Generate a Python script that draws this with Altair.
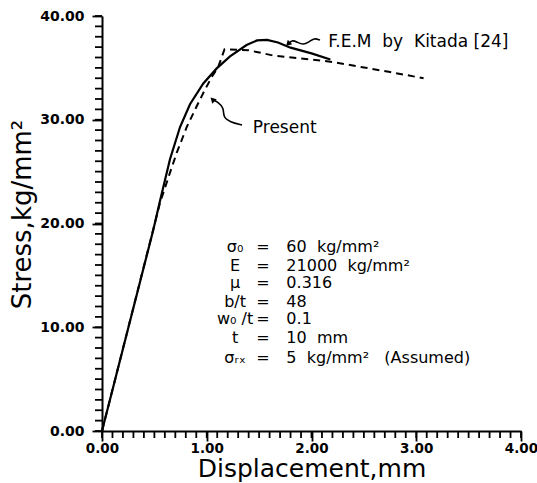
import altair as alt
import pandas as pd

# ---- data ----
fem_x = [0.0, 0.49, 0.554, 0.649, 0.745, 0.840, 0.967, 1.095, 1.222, 1.38, 1.48, 1.575, 1.68, 1.80, 2.0, 2.18]
fem_y = [0.0, 19.4, 22.2, 26.2, 29.3, 31.5, 33.5, 34.95, 36.1, 37.2, 37.65, 37.7, 37.45, 36.95, 36.4, 35.8]

pres_x = [0.0, 0.554, 0.649, 0.713, 0.809, 0.904, 0.983, 1.047, 1.11, 1.17, 1.40, 1.63, 2.18, 2.75, 3.07]
pres_y = [0.0, 22.0, 24.9, 26.8, 29.3, 31.3, 32.9, 34.1, 35.1, 36.8, 36.7, 36.2, 35.6, 34.6, 34.0]

NB = "\u00a0"
# parameter block text
param_left = ["σ₀", "E", "μ", "b/t", "w₀ /t", "t", "σᵣₓ"]
param_right = ["60" + NB * 2 + "kg/mm²", "21000" + NB * 2 + "kg/mm²", "0.316", "48", "0.1",
               "10" + NB * 2 + "mm", "5" + NB * 2 + "kg/mm²" + NB * 3 + "(Assumed)"]
param_y = [17.76, 15.90, 14.22, 12.46, 10.80, 8.96, 7.04]
param_left_x = 1.27
param_eq_x = 1.537
param_right_x = 1.76

# curve labels
label_text = ["F.E.M" + NB * 2 + "by" + NB * 2 + "Kitada" + NB + "[24]", "Present"]
label_x = [2.16, 1.44]
label_y = [37.45, 29.2]

# curly arrows (annotation paths)
fem_arrow_x = [2.081, 2.024, 1.976, 1.919, 1.862, 1.814, 1.776]
fem_arrow_y = [37.69, 37.88, 37.49, 37.20, 37.49, 37.69, 37.30]
pres_arrow_x = [1.337, 1.222, 1.155, 1.165, 1.107, 1.055]
pres_arrow_y = [29.49, 29.78, 30.27, 31.13, 31.71, 31.95]
head_x = [1.776, 1.055]
head_y = [37.30, 31.95]
head_angle = [225, 315]

y_major = [0, 10, 20, 30, 40]
x_major = [0, 1, 2, 3, 4]
y_minor = list(range(0, 41))
x_minor = [round(i * 0.1, 1) for i in range(41)]

FONT = "DejaVu Sans"
W, H = 419, 415
MINOR = 7

fem = pd.DataFrame({"x": fem_x, "y": fem_y, "i": range(len(fem_x))})
pres = pd.DataFrame({"x": pres_x, "y": pres_y, "i": range(len(pres_x))})

xs = alt.Scale(domain=[0, 4], nice=False, zero=False)
ys = alt.Scale(domain=[0, 40], nice=False, zero=False)

common = dict(grid=False, domainColor="black", domainWidth=2, tickColor="black", tickWidth=1.8)

x_axis = alt.Axis(
    orient="bottom", values=x_major, format=".2f", tickSize=10,
    labelFont=FONT, labelFontSize=13.5, labelFontWeight="bold", labelColor="black",
    labelPadding=0, labelFlush=False, labelOverlap=False,
    title="Displacement,mm", titleFont=FONT, titleFontSize=25, titleFontWeight="normal",
    titleColor="black", titlePadding=2, **common,
)
y_axis = alt.Axis(
    orient="left", values=y_major, format=".2f", tickSize=10,
    labelFont=FONT, labelFontSize=14, labelFontWeight="bold", labelColor="black",
    labelPadding=8, labelFlush=False, labelOverlap=False,
    title="Stress,kg/mm²", titleFont=FONT, titleFontSize=26, titleFontWeight="normal",
    titleColor="black", titlePadding=4, titleY=198, **common,
)


def X(field):
    return alt.X(field, type="quantitative", scale=xs, axis=x_axis)


def Y(field):
    return alt.Y(field, type="quantitative", scale=ys, axis=y_axis)


fem_line = alt.Chart(fem).mark_line(color="black", strokeWidth=2.2).encode(
    x=X("x"), y=Y("y"), order="i:Q")
pres_line = alt.Chart(pres).mark_line(color="black", strokeWidth=2, strokeDash=[7, 5]).encode(
    x=X("x"), y=Y("y"), order="i:Q")

# minor ticks along the axes (positions through the scales)
ymin_t = alt.Chart(pd.DataFrame({"v": y_minor})).mark_rule(
    color="black", strokeWidth=1.8, opacity=1).encode(
    y=Y("v"), x=alt.value(-MINOR), x2=alt.value(0))
xmin_t = alt.Chart(pd.DataFrame({"v": x_minor})).mark_rule(
    color="black", strokeWidth=1.8, opacity=1).encode(
    x=X("v"), y=alt.value(H), y2=alt.value(H + MINOR))

params = pd.DataFrame({"left": param_left, "right": param_right, "y": param_y,
                       "lx": [param_left_x] * 7, "ex": [param_eq_x] * 7, "rx": [param_right_x] * 7,
                       "eq": ["="] * 7})
ptxt = alt.Chart(params)
PFS = 16
p_left = ptxt.mark_text(font=FONT, fontSize=PFS, align="center", baseline="middle", color="black").encode(
    x=X("lx"), y=Y("y"), text="left:N")
p_eq = ptxt.mark_text(font=FONT, fontSize=PFS, align="center", baseline="middle", color="black").encode(
    x=X("ex"), y=Y("y"), text="eq:N")
p_right = ptxt.mark_text(font=FONT, fontSize=PFS, align="left", baseline="middle", color="black").encode(
    x=X("rx"), y=Y("y"), text="right:N")

labels = pd.DataFrame({"t": label_text, "x": label_x, "y": label_y})
lbl = alt.Chart(labels).mark_text(font=FONT, fontSize=17, align="left", baseline="middle", color="black").encode(
    x=X("x"), y=Y("y"), text="t:N")

arrows = pd.concat([
    pd.DataFrame({"x": fem_arrow_x, "y": fem_arrow_y, "i": range(len(fem_arrow_x)), "g": "fem"}),
    pd.DataFrame({"x": pres_arrow_x, "y": pres_arrow_y, "i": range(len(pres_arrow_x)), "g": "pres"}),
])
arr = alt.Chart(arrows).mark_line(color="black", strokeWidth=1.6, interpolate="basis").encode(
    x=X("x"), y=Y("y"), detail="g:N", order="i:Q")

heads = pd.DataFrame({"x": head_x, "y": head_y, "a": head_angle})
hd = alt.Chart(heads).mark_point(shape="triangle-up", filled=True, color="black", size=40, opacity=1).encode(
    x=X("x"), y=Y("y"), angle=alt.Angle("a:Q", scale=None))

chart = alt.layer(fem_line, pres_line, ymin_t, xmin_t, p_left, p_eq, p_right, lbl, arr, hd).properties(
    width=W, height=H,
    autosize=alt.AutoSizeParams(type="none"),
    padding={"left": 102, "top": 16, "right": 16, "bottom": 52},
    background="white",
).configure_view(stroke=None)

chart.save("out.html", embed_options={"renderer": "svg", "actions": False})
